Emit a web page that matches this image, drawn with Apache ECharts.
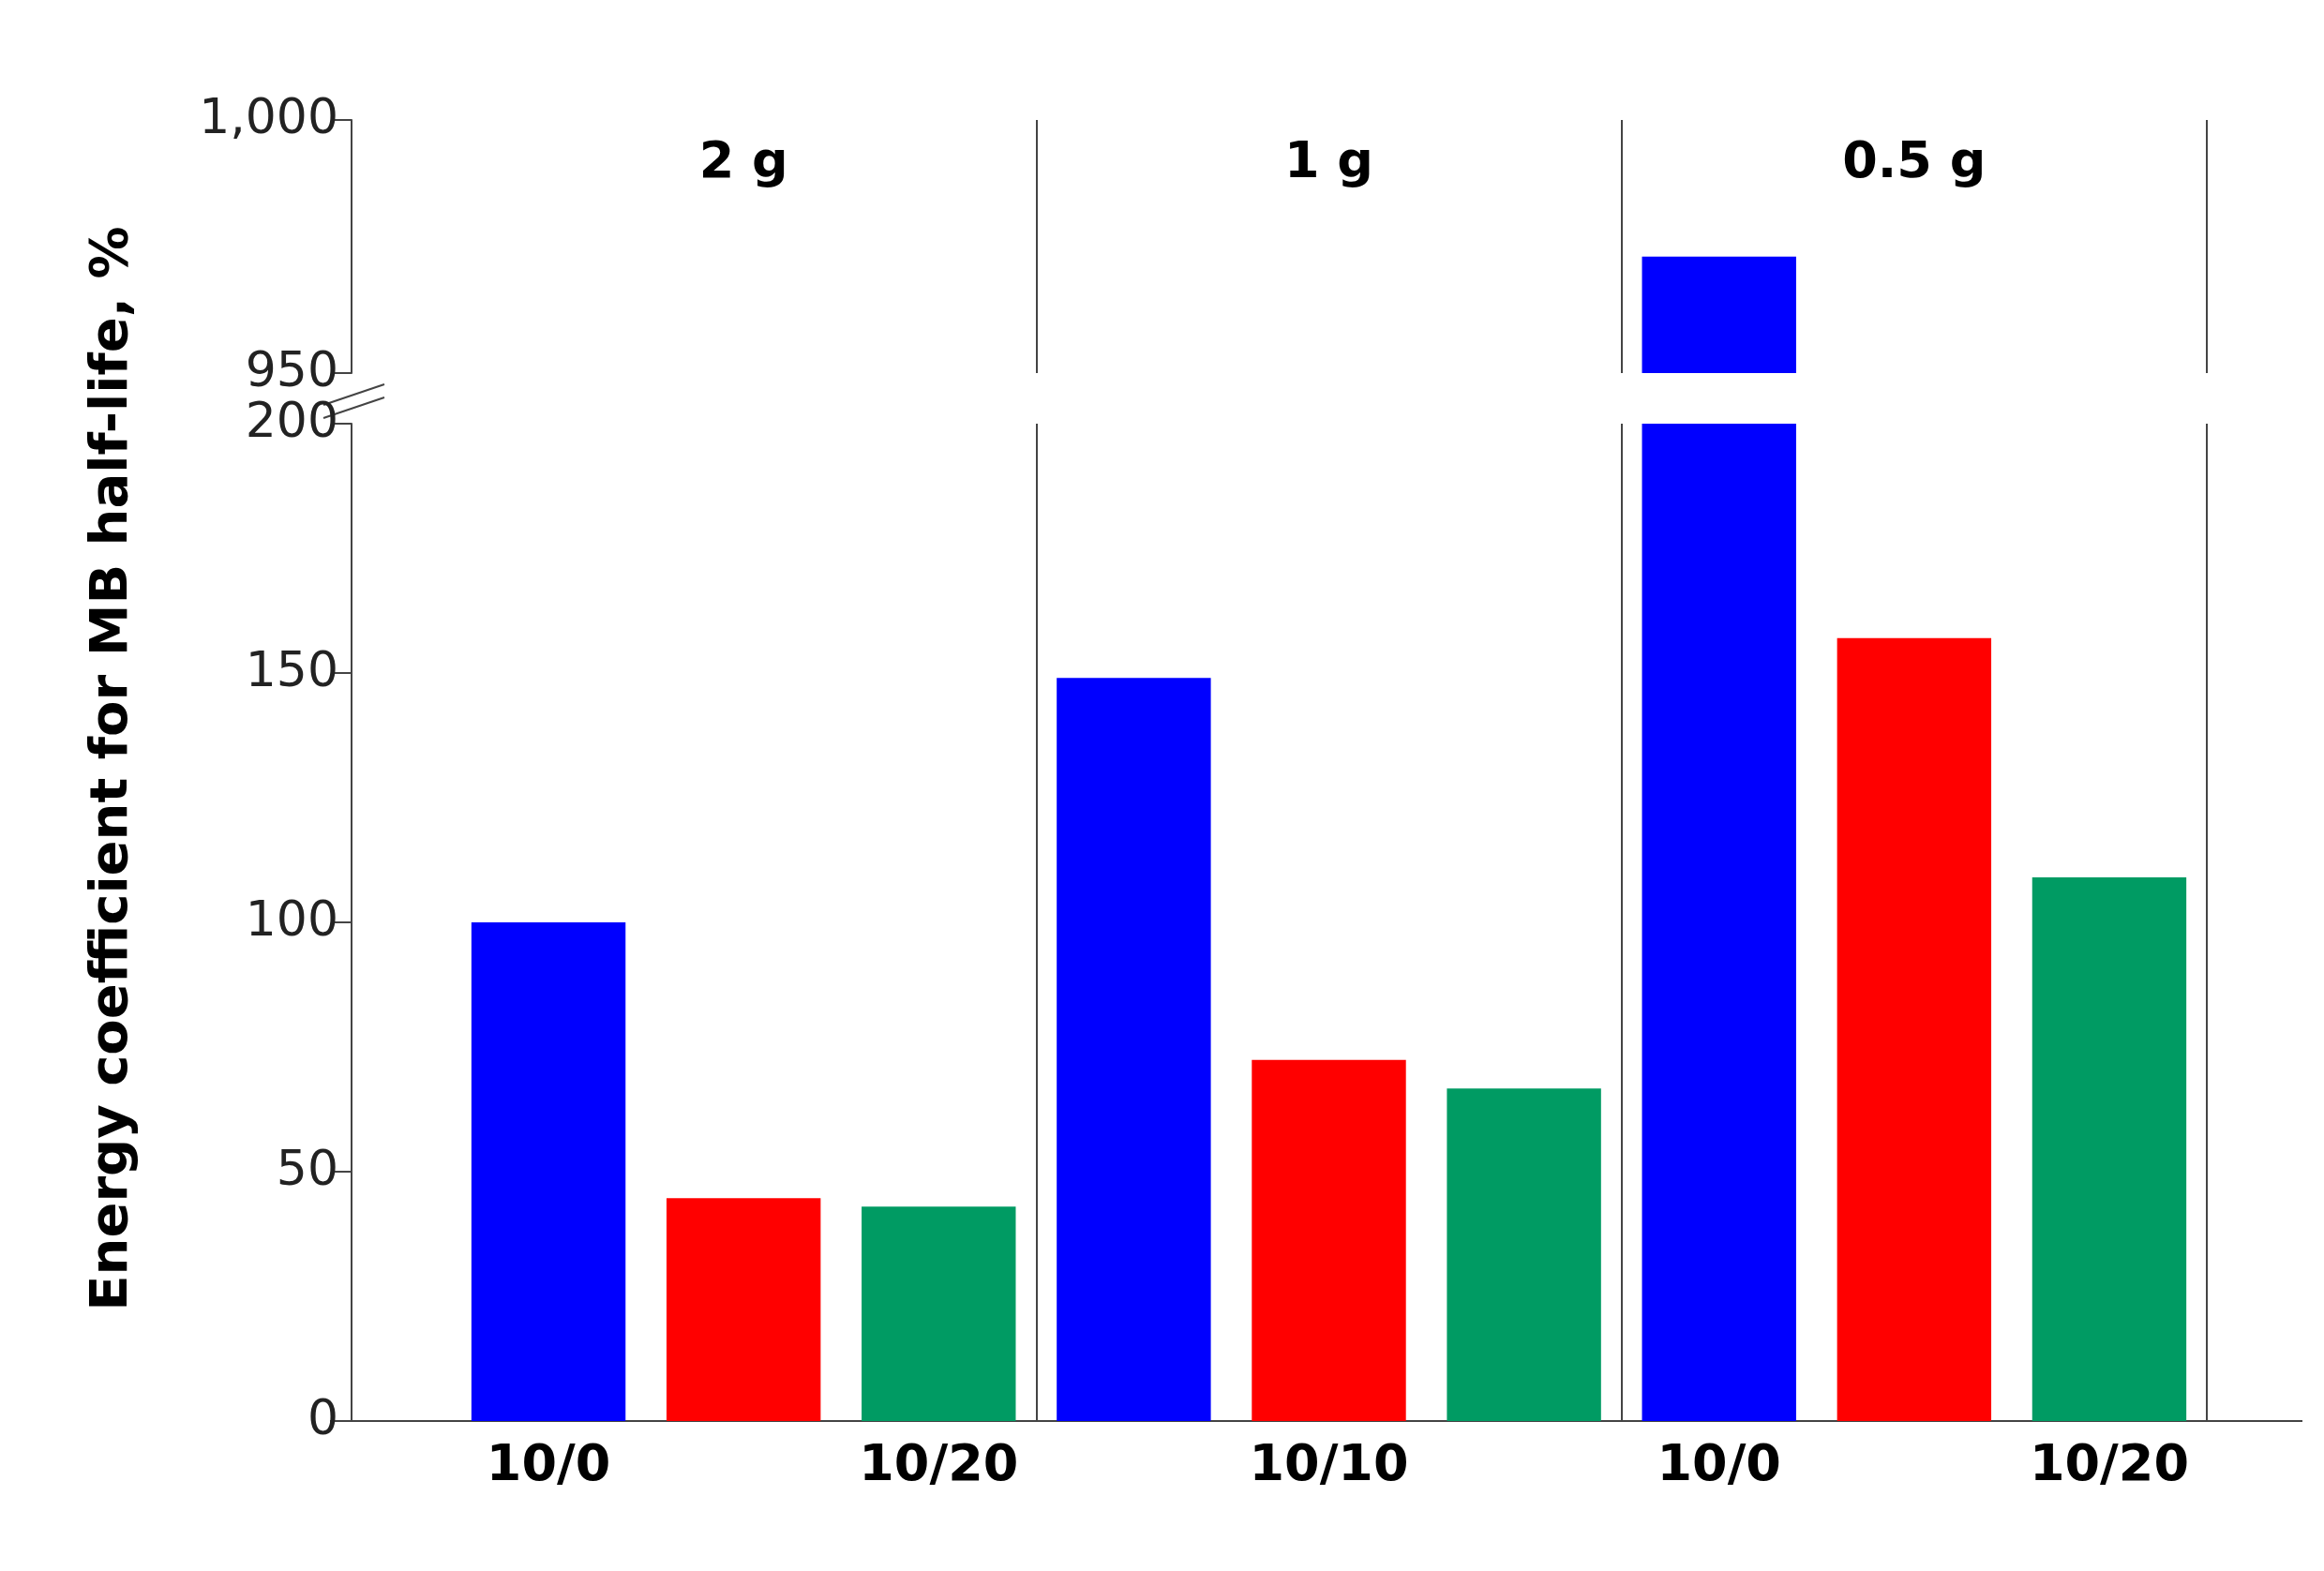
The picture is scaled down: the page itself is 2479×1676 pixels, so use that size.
<!DOCTYPE html>
<html>
<head>
<meta charset="UTF-8">
<script src="https://cdn.jsdelivr.net/npm/echarts@6/dist/echarts.min.js"></script>
<style>html,body{margin:0;background:#fff}</style>
</head>
<body>
<div id="main" style="width:2479px;height:1676px"></div>
<script>
var categories = ['10/0','10/10','10/20','10/0','10/10','10/20','10/0','10/10','10/20'];
var groups = ['2 g','1 g','0.5 g'];
var values = [100, 44.7, 43, 149, 72.4, 66.7, 973, 157, 109];
var barColors = ['#0000ff','#ff0000','#009b63'];
var lowMax = 200, highMin = 950, highMax = 1000;

var lowData = values.map(function (v, i) {
    return { value: Math.min(v, lowMax), itemStyle: { color: barColors[i % 3] } };
});
var highData = values.map(function (v, i) {
    return v > highMin ? { value: v, itemStyle: { color: barColors[i % 3] } } : '-';
});

var font = 'DejaVu Sans';
var sep = { show: true, interval: function (i) { return i === 3 || i === 6; }, lineStyle: { color: '#444', width: 2 } };

var chart = echarts.init(document.getElementById('main'));
chart.setOption({
    animation: false,
    grid: [
        { left: 481, right: 125, top: 452, height: 1064 },
        { left: 481, right: 125, top: 128, height: 270 }
    ],
    xAxis: [
        { type: 'category', gridIndex: 0, data: categories, axisLine: { show: false }, axisTick: { show: false },
          splitLine: sep,
          axisLabel: { fontFamily: font, fontWeight: 'bold', fontSize: 54, color: '#000', margin: 22 } },
        { type: 'category', gridIndex: 1, data: categories, axisLine: { show: false }, axisTick: { show: false },
          axisLabel: { show: false }, splitLine: sep },
        { type: 'category', gridIndex: 1, data: groups, position: 'top', axisLine: { show: false }, axisTick: { show: false },
          axisLabel: { inside: true, margin: 20, fontFamily: font, fontWeight: 'bold', fontSize: 54, color: '#000',
                       verticalAlign: 'top' } }
    ],
    yAxis: [
        { type: 'value', gridIndex: 0, min: 0, max: lowMax, interval: 50, offset: 106,
          splitLine: { show: false },
          axisLine: { show: true, lineStyle: { color: '#444', width: 2 } },
          axisTick: { show: true, length: 19, lineStyle: { color: '#444', width: 2 } },
          axisLabel: { fontFamily: font, fontSize: 52, color: '#222', margin: 14 } },
        { type: 'value', gridIndex: 1, min: highMin, max: highMax, interval: 50, offset: 106,
          splitLine: { show: false },
          axisLine: { show: true, lineStyle: { color: '#444', width: 2 } },
          axisTick: { show: true, length: 19, lineStyle: { color: '#444', width: 2 } },
          axisLabel: { fontFamily: font, fontSize: 52, color: '#222', margin: 14 } }
    ],
    series: [
        { type: 'bar', xAxisIndex: 0, yAxisIndex: 0, data: lowData, barCategoryGap: '21%' },
        { type: 'bar', xAxisIndex: 1, yAxisIndex: 1, data: highData, barCategoryGap: '21%' }
    ],
    graphic: [
        { type: 'line', shape: { x1: 352, y1: 1516, x2: 2456, y2: 1516 }, style: { stroke: '#444', lineWidth: 2 } },
        { type: 'rect', shape: { x: 370, y: 398, width: 12, height: 54 }, style: { fill: '#fff' } },
        { type: 'line', shape: { x1: 345, y1: 432, x2: 410, y2: 410 }, style: { stroke: '#444', lineWidth: 2 } },
        { type: 'line', shape: { x1: 345, y1: 446, x2: 410, y2: 424 }, style: { stroke: '#444', lineWidth: 2 } },
        { type: 'text', x: 120, y: 820, rotation: Math.PI / 2,
          style: { text: 'Energy coefficient for MB half-life, %', fontFamily: font, fontWeight: 'bold', fontSize: 56,
                   fill: '#000', align: 'center', verticalAlign: 'middle' } }
    ]
});
</script>
</body>
</html>
